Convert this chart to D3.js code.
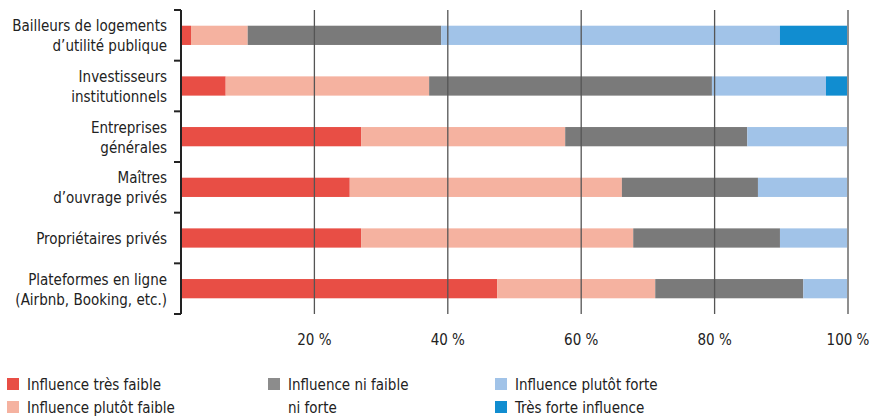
<!DOCTYPE html>
<html>
<head>
<meta charset="utf-8">
<script src="https://cdn.jsdelivr.net/npm/d3@7"></script>
<style>
  body { margin: 0; background: #fff; }
  svg { font-family: "Liberation Sans Narrow", "DejaVu Sans Condensed", "Roboto", sans-serif; }
</style>
</head>
<body>
<div id="chart"></div>
<script>
// categories (two-line labels split by |)
const categories = [
  "Bailleurs de logements|d’utilité publique",
  "Investisseurs|institutionnels",
  "Entreprises|générales",
  "Maîtres|d’ouvrage privés",
  "Propriétaires privés",
  "Plateformes en ligne|(Airbnb, Booking, etc.)"
];
const seriesNames = ["Influence très faible", "Influence plutôt faible", "Influence ni faible|ni forte", "Influence plutôt forte", "Très forte influence"];
const veryLow  = [1.5, 6.7, 27.0, 25.3, 27.0, 47.4];
const ratherLow = [8.5, 30.5, 30.6, 40.8, 40.8, 23.7];
const neutral  = [29.0, 42.4, 27.3, 20.4, 22.0, 22.2];
const ratherHigh = [50.8, 17.1, 15.1, 13.5, 10.2, 6.7];
const veryHigh = [10.2, 3.3, 0, 0, 0, 0];
const ticks = [20, 40, 60, 80, 100];
const colors = ["#e84e45", "#f5b2a0", "#7a7a7a", "#a1c3e8", "#118dd0"];

const width = 871, height = 419;
const margin = {top: 10, left: 181, right: 23, bottom: 105};

const svg = d3.select("#chart").append("svg")
  .attr("width", width).attr("height", height);

const x = d3.scaleLinear().domain([0, 100]).range([margin.left, width - margin.right]);
const y = d3.scaleBand().domain(categories).range([margin.top, height - margin.bottom]).paddingInner(0.62).paddingOuter(0.31);
const yb = d3.scaleBand().domain(categories).range([margin.top, height - margin.bottom]);

const rows = categories.map((c, i) => ({cat: c, v: [veryLow[i], ratherLow[i], neutral[i], ratherHigh[i], veryHigh[i]]}));
const stack = d3.stack().keys([0, 1, 2, 3, 4]).value((d, k) => d.v[k]);
const layers = stack(rows);

// bars
svg.append("g").selectAll("g").data(layers).join("g")
  .attr("fill", (d, i) => colors[i])
  .selectAll("rect").data(d => d).join("rect")
  .attr("x", d => x(d[0]))
  .attr("width", d => Math.max(0, x(d[1]) - x(d[0])))
  .attr("y", d => y(d.data.cat))
  .attr("height", y.bandwidth());

// gridlines on top
svg.append("g").selectAll("line").data(ticks).join("line")
  .attr("x1", d => x(d)).attr("x2", d => x(d))
  .attr("y1", margin.top).attr("y2", height - margin.bottom)
  .attr("stroke", d => d === 100 ? "#8f8f8f" : "#555")
  .attr("stroke-width", d => d === 100 ? 2 : 1.3);

// tick labels
svg.append("g").selectAll("text").data(ticks).join("text")
  .attr("x", d => x(d)).attr("y", 345)
  .attr("text-anchor", "middle")
  .attr("font-size", 15).attr("fill", "#222")
  .text(d => d + " %");

// left axis
const yAxis = svg.append("g");
yAxis.append("line")
  .attr("x1", margin.left).attr("x2", margin.left)
  .attr("y1", margin.top).attr("y2", height - margin.bottom)
  .attr("stroke", "#222").attr("stroke-width", 2);
yAxis.selectAll("line.tk").data(categories.concat(["end"])).join("line")
  .attr("class", "tk")
  .attr("x1", margin.left - 7).attr("x2", margin.left)
  .attr("y1", (d, i) => i < categories.length ? yb(d) : yb.range()[1])
  .attr("y2", (d, i) => i < categories.length ? yb(d) : yb.range()[1])
  .attr("stroke", "#222").attr("stroke-width", 2);

// category labels
svg.append("g").selectAll("text").data(categories).join("text")
  .attr("text-anchor", "end")
  .attr("font-size", 15).attr("fill", "#222")
  .each(function(d) {
    const lines = d.split("|");
    const cy = yb(d) + yb.bandwidth() / 2;
    const t = d3.select(this);
    lines.forEach((l, j) => {
      t.append("tspan")
        .attr("x", 167)
        .attr("y", cy + 6 + (j - (lines.length - 1) / 2) * 20)
        .text(l);
    });
  });

// legend
const legPos = [[7, 384], [7, 407], [268, 384], [495, 384], [495, 407]];
const leg = svg.append("g").selectAll("g").data(seriesNames).join("g")
  .attr("transform", (d, i) => `translate(${legPos[i][0]},${legPos[i][1]})`);
leg.append("rect").attr("x", 0).attr("y", -6).attr("width", 12).attr("height", 12)
  .attr("fill", (d, i) => i === 2 ? "#8c8c8c" : colors[i]);
leg.append("text")
  .attr("font-size", 15).attr("fill", "#222")
  .each(function(d) {
    const t = d3.select(this);
    d.split("|").forEach((l, j) => {
      t.append("tspan").attr("x", 20).attr("y", 6 + j * 23).text(l);
    });
  });
</script>
</body>
</html>
